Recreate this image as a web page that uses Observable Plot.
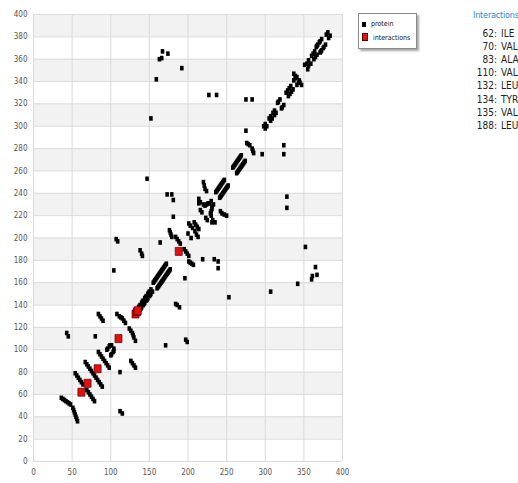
<!DOCTYPE html>
<html><head><meta charset="utf-8">
<script src="https://cdn.jsdelivr.net/npm/d3@7"></script>
<script src="https://cdn.jsdelivr.net/npm/@observablehq/plot@0.6"></script>
<style>
html,body{margin:0;padding:0;background:#fff;overflow:hidden;width:518px;height:483px}
#wrap{position:relative;width:518px;height:483px;overflow:hidden}
#wrap svg{position:absolute;left:0;top:0}
.nf{font-family:"Liberation Sans Narrow","DejaVu Sans Condensed","Liberation Sans",Arial,sans-serif}
#legend{position:absolute;left:358px;top:13px;width:57px;height:34px;border:1px solid #8a8a8a;background:#fff;box-shadow:2px 2px 2px rgba(0,0,0,0.35);font-size:7px;color:#111}
.li{position:absolute;left:3px;height:9px;line-height:9px;white-space:nowrap}
.li i{display:inline-block;width:4px;height:5px;margin-right:5px;vertical-align:-1px}
#panel{position:absolute;left:473px;top:9px;white-space:nowrap}
#panel .ttl{color:#2a8ad0;font-size:9px;line-height:12px;letter-spacing:-0.2px}
.row{position:absolute;font-size:10px;line-height:12px;color:#222;white-space:nowrap}
.row .n{display:inline-block;width:24px;text-align:right}
.row .a{margin-left:4px}
</style>
</head><body>
<div id="wrap"></div>
<script>
// Contact pairs [residue i, residue j] with i < j; the contact map is drawn symmetric.
// antiparallel (hairpin) contacts
const hairpinPairs = [
  [36,57],[38,56],[40,55],[42,54],[44,53],[46,52],[48,51],
  [54,79],[56,77],[58,75],[60,73],[62,71],[64,69],
  [67,89],[69,87],[71,85],[73,83],[75,81],[77,79],
  [84,98],[86,96],[88,94],[90,92],
  [84,132],[86,130],[88,128],[90,126],
  [108,132],[111,130],[113,129],[115,128],[117,126],[119,124],
  [184,201],[186,199],[188,197],[190,195],
  [201,213],[203,211],[206,209],[208,214],[210,212],
  [216,225],[218,223],[220,250],[221,247],[222,244],[224,242],
  [276,285],[278,284],[280,283],
  [337,347],[339,345],[341,344]
];
// near-diagonal (helical / sequential) contacts
const helixPairs = [
  [95,100],[96,101],[98,103],[99,104],[101,104],
  [133,135],[134,136],[136,138],[137,139],[138,140],[140,142],[141,143],[142,144],[144,146],[145,147],[146,148],[148,150],[149,151],[150,152],[152,154],
  [155,160],[156,161],[157,162],[158,163],[159,164],[160,165],[161,166],[162,167],[163,168],[164,169],[165,170],[166,171],[167,172],[168,173],[169,174],[170,175],[171,176],[172,177],
  [200,204],[220,230],[222,229],[224,230],[226,231],[228,231],[230,233],
  [236,241],[237,242],[238,243],[239,244],[240,245],[241,246],[242,247],[243,248],[244,249],[245,250],[246,251],[247,252],
  [258,263],[259,264],[260,265],[261,266],[262,267],[263,268],[264,269],[265,270],[266,271],[267,272],[268,273],[269,274],
  [298,300],[300,302],[305,307],[307,309],[310,312],[312,314],
  [316,321],[317,322],[319,324],
  [327,330],[329,332],[331,334],[333,336],[337,341],[339,343],
  [351,355],[354,356],[356,359],[360,363],[362,365],[364,367],
  [366,371],[367,372],[368,373],[370,375],[371,376],[373,378],
  [379,382],[381,384]
];
// long-range contacts
const longRangePairs = [
  [43,115],[45,112],[80,112],[104,171],[107,199],[109,197],
  [138,189],[140,186],[141,184],[164,196],
  [176,207],[177,205],[178,203],[179,201],
  [181,219],[179,239],[181,234],[173,239],
  [214,235],[216,232],[214,231],
  [275,296],[275,324],[283,324],
  [163,360],[166,361],[167,367],[174,365],[192,352],[159,342],
  [227,328],[237,328],[152,307],[147,253]
];
// highlighted interaction residues (drawn on the diagonal)
const interactionResidues = [62,70,83,110,132,134,135,188];
const interactionNames = ["ILE","VAL","ALA","VAL","LEU","TYR","VAL","LEU"];
// axis ticks and shaded bands
const xTicks = [0,50,100,150,200,250,300,350,400];
const yTicks = [0,20,40,60,80,100,120,140,160,180,200,220,240,260,280,300,320,340,360,380,400];
const bandStart = [20,60,100,140,180,220,260,300,340,380];
const bandEnd = [40,80,120,160,200,240,280,320,360,400];

const protein = [];
[...hairpinPairs, ...helixPairs, ...longRangePairs].forEach(([a, b]) => {
  protein.push({x: a, y: b});
  protein.push({x: b, y: a});
});
const interactions = interactionResidues.map(r => ({x: r, y: r}));
const bands = bandStart.map((s, k) => ({y1: s, y2: bandEnd[k]}));

const rectSym = (w, h) => ({draw(ctx) { ctx.rect(-w / 2, -h / 2, w, h); }});

const fontFam = '"Liberation Sans Narrow","DejaVu Sans Condensed","Liberation Sans",Arial,sans-serif';
const chart = Plot.plot({
  width: 518, height: 483,
  marginLeft: 33, marginRight: 176, marginTop: 14, marginBottom: 22,
  x: {domain: [0, 400]},
  y: {domain: [0, 400]},
  style: {fontFamily: fontFam, fontSize: "8px", color: "#555", background: "transparent"},
  marks: [
    Plot.rect(bands, {y1: "y1", y2: "y2", fill: "#f2f2f2"}),
    Plot.gridX(xTicks, {stroke: "#dadada", strokeOpacity: 1}),
    Plot.gridY(yTicks, {stroke: "#dadada", strokeOpacity: 1}),
    Plot.axisX(xTicks, {tickSize: 0, tickPadding: 8, label: null, fill: "#555"}),
    Plot.axisY(yTicks, {tickSize: 0, tickPadding: 6, label: null, fill: "#555"}),
    Plot.dot(protein, {x: "x", y: "y", symbol: rectSym(3.6, 4.6), fill: "#000", stroke: "none"}),
    Plot.dot(interactions, {x: "x", y: "y", symbol: rectSym(7, 8), fill: "#e41010", stroke: "#5a0000", strokeWidth: 0.7})
  ]
});
const wrap = document.getElementById("wrap");
wrap.appendChild(chart);

// legend
const leg = document.createElement("div");
leg.id = "legend"; leg.className = "nf";
leg.innerHTML = '<div class="li" style="top:6px"><i style="background:#000"></i>protein</div>' +
  '<div class="li" style="top:19px"><i style="background:#e41010;border:0.5px solid #5a0000;width:4px;height:6px"></i>interactions</div>';
wrap.appendChild(leg);

// interactions panel
const panel = document.createElement("div");
panel.id = "panel"; panel.className = "nf";
panel.innerHTML = '<div class="ttl">Interactions</div>';
wrap.appendChild(panel);
interactionResidues.forEach((r, k) => {
  const d = document.createElement("div");
  d.className = "row nf";
  d.style.left = "473px";
  d.style.top = (28 + k * 13.1) + "px";
  d.innerHTML = '<span class="n">' + r + ':</span><span class="a">' + interactionNames[k] + '</span>';
  wrap.appendChild(d);
});
</script>
</body></html>
